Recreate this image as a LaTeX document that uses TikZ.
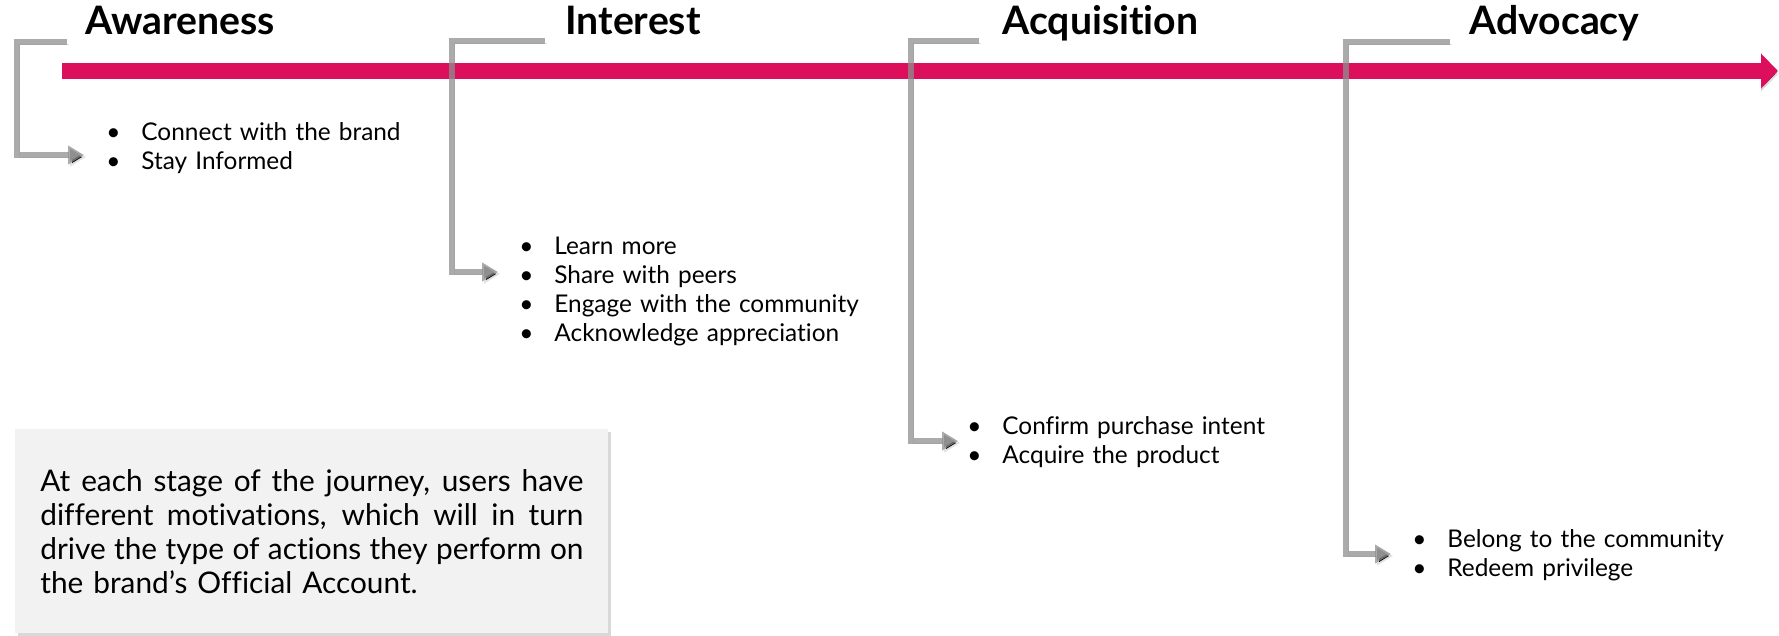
\documentclass[tikz,border=0pt]{standalone}
\usepackage{fontspec}
\setmainfont{Lato}[Ligatures=NoCommon]
\usetikzlibrary{arrows.meta,shadows}
\definecolor{journeypink}{HTML}{DC0F5C}
\definecolor{bracketgray}{HTML}{8F8F8F}
\definecolor{notefill}{HTML}{F2F2F2}
\newcommand{\bitem}[1]{\makebox[17.5pt][l]{\textbullet}#1}
\newcommand{\fullline}[1]{\leavevmode\hbox to 271.5pt{\spaceskip=\fontdimen2\font plus 1em\relax #1}}
\begin{document}
\begin{tikzpicture}[x=0.5pt,y=-0.5pt,node distance=14.6pt]
\tikzstyle{stage}=[font=\fontsize{19.6}{23}\selectfont\bfseries,anchor=base west,inner sep=0pt]
\tikzstyle{item}=[font=\fontsize{12.2}{14}\selectfont,text width=190pt,align=left,inner sep=0pt,text height=9pt,text depth=2.8pt]
\tikzstyle{bracket}=[draw=bracketgray,draw opacity=0.75,line width=2.75pt,-{Triangle[length=8pt,width=9pt]},preaction={draw=black,draw opacity=0.12,transform canvas={xshift=1pt,yshift=-1pt}}]
\tikzstyle{timeline}=[draw=journeypink,line width=8pt,-{Triangle[length=8.5pt,width=17pt]},preaction={draw=black,draw opacity=0.15,transform canvas={yshift=-1.5pt}}]
\tikzstyle{note}=[fill=notefill,anchor=north west,text width=271.5pt,align=left,inner xsep=12.5pt,inner ysep=0pt,minimum height=102pt,font=\fontsize{14.9}{17}\selectfont,drop shadow={shadow xshift=1.2pt,shadow yshift=-1.2pt,opacity=0.3}]
\useasboundingbox (0,0) rectangle (1779,636);

% stages
\node[stage] (aw) at (85,35) {Awareness};
\node[stage] (in) at (565,35) {Interest};
\node[stage] (ac) at (1002,35) {Acquisition};
\node[stage] (ad) at (1469,35) {Advocacy};

% motivations
\node[item,anchor=west] (aw1) at (106,134) {\bitem{Connect with the brand}};
\node[item] (aw2) [below of=aw1] {\bitem{Stay Informed}};
\node[item,anchor=west] (in1) at (519,248) {\bitem{Learn more}};
\node[item] (in2) [below of=in1] {\bitem{Share with peers}};
\node[item] (in3) [below of=in2] {\bitem{Engage with the community}};
\node[item] (in4) [below of=in3] {\bitem{Acknowledge appreciation}};
\node[item,anchor=west] (ac1) at (967,428) {\bitem{Confirm purchase intent}};
\node[item] (ac2) [below of=ac1] {\bitem{Acquire the product}};
\node[item,anchor=west] (ad1) at (1412,541) {\bitem{Belong to the community}};
\node[item] (ad2) [below of=ad1] {\bitem{Redeem privilege}};

% note
\node[note] (note) at (15,429) {\fullline{At each stage of the journey, users have}\\
\fullline{different motivations, which will in turn}\\
\fullline{drive the type of actions they perform on}\\
the brand’s Official Account.};

% timeline
\coordinate (tlstart) at (62,71);
\coordinate (tlend) at (1778,71);
\draw[timeline] (tlstart) -- (tlend);

% brackets
\coordinate (awbend) at (17,155);
\coordinate (awtip) at (84,155);
\coordinate (inbend) at (452,272);
\coordinate (intip) at (498,272);
\coordinate (acbend) at (911,441);
\coordinate (actip) at (958,441);
\coordinate (adbend) at (1346,554);
\coordinate (adtip) at (1391,554);
\draw[bracket] ([shift={(-9pt,-3.5pt)}]aw.base west) -| (awbend) -- (awtip);
\draw[bracket] ([shift={(-10pt,-3pt)}]in.base west) -| (inbend) -- (intip);
\draw[bracket] ([shift={(-11.5pt,-3pt)}]ac.base west) -| (acbend) -- (actip);
\draw[bracket] ([shift={(-9.5pt,-3.5pt)}]ad.base west) -| (adbend) -- (adtip);
\end{tikzpicture}
\end{document}
